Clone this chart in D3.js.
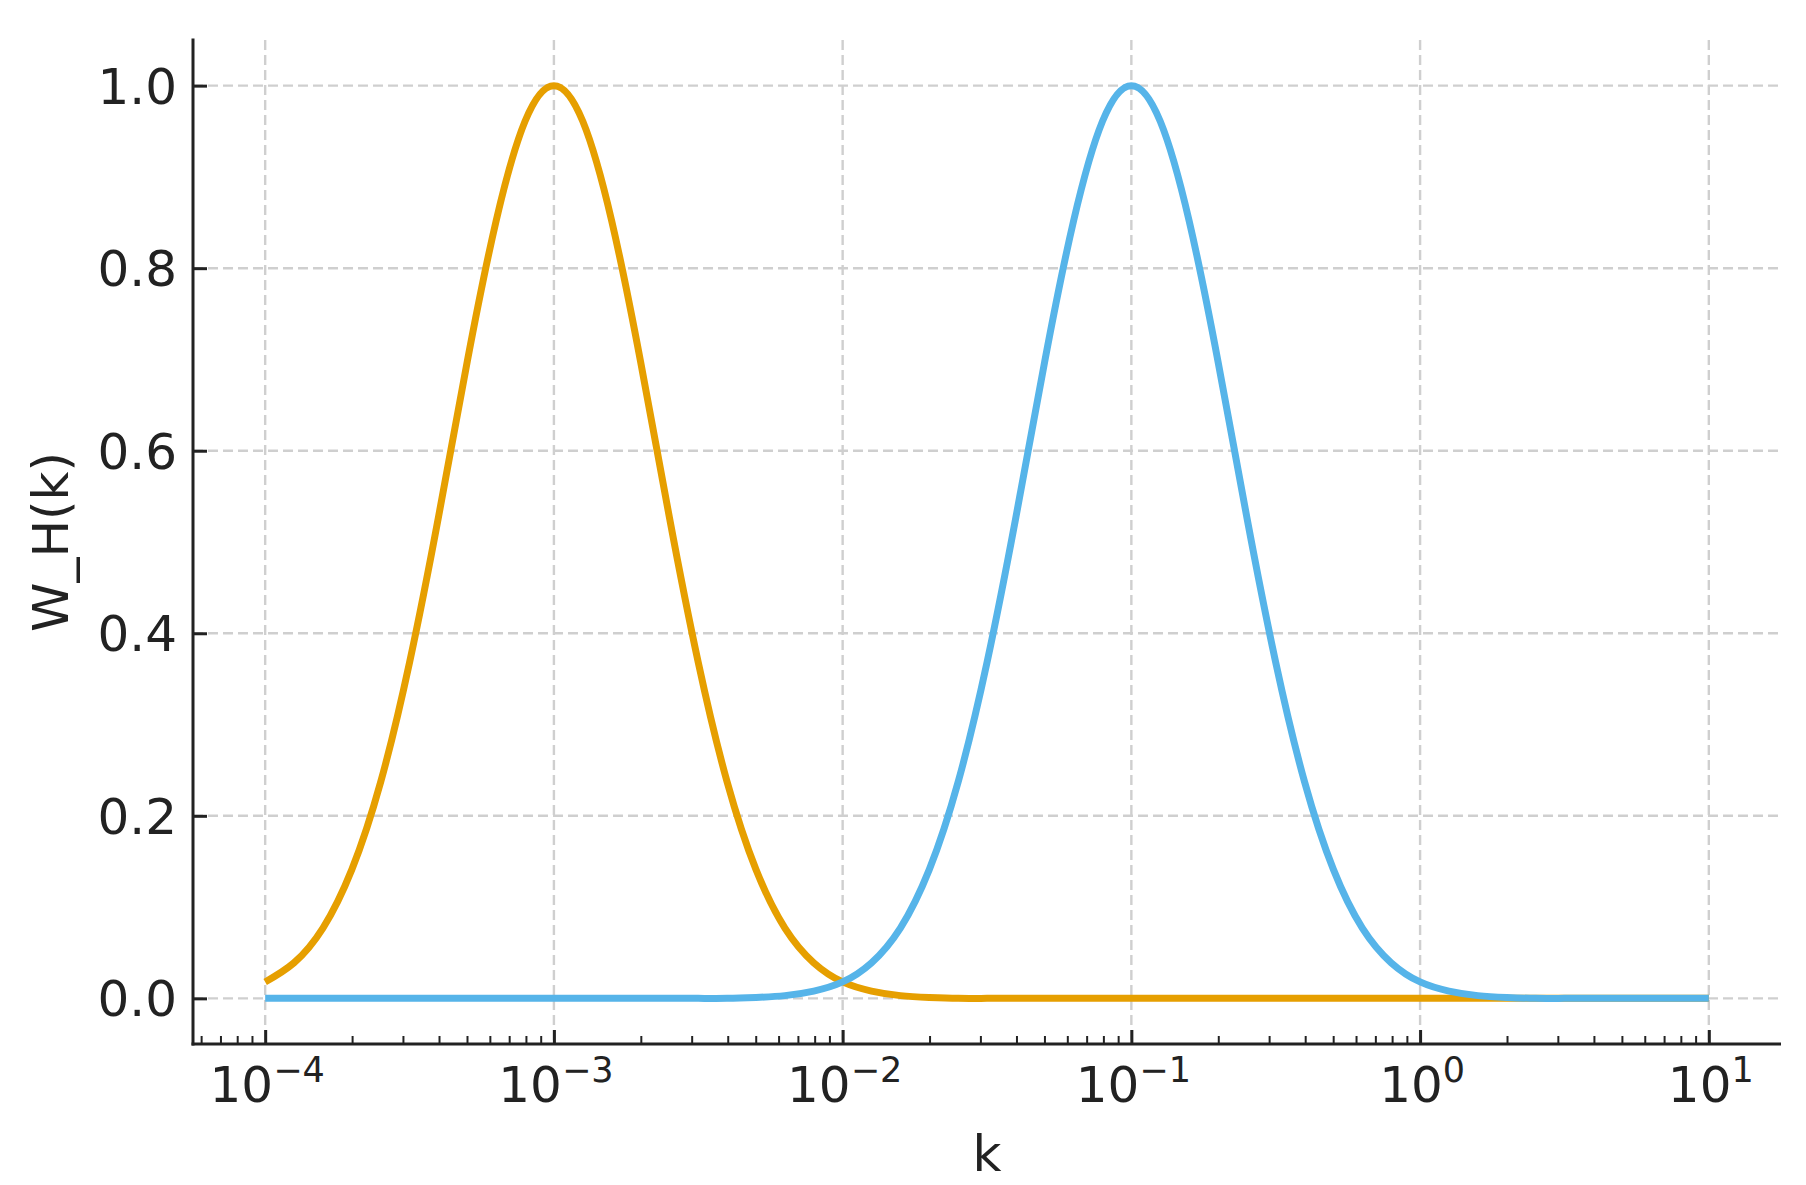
<!DOCTYPE html>
<html>
<head>
<meta charset="utf-8">
<script src="https://cdn.jsdelivr.net/npm/d3@7"></script>
<style>
  html, body { margin: 0; padding: 0; background: #ffffff; }
  svg { display: block; }
  text { font-family: "DejaVu Sans", sans-serif; fill: #222222; }
</style>
</head>
<body>
<svg id="chart" width="1806" height="1185"></svg>
<script>
// ---- data ----
const logK = [
  -4.0, -3.9, -3.8, -3.7, -3.6, -3.5, -3.4, -3.3, -3.2, -3.1,
  -3.0, -2.9, -2.8, -2.7, -2.6, -2.5, -2.4, -2.3, -2.2, -2.1,
  -2.0, -1.9, -1.8, -1.7, -1.6, -1.5, -1.4, -1.3, -1.2, -1.1,
  -1.0, -0.9, -0.8, -0.7, -0.6, -0.5, -0.4, -0.3, -0.2, -0.1,
   0.0,  0.1,  0.2,  0.3,  0.4,  0.5,  0.6,  0.7,  0.8,  0.9,
   1.0
];
const orangeSeries = [
  0.018, 0.039, 0.077, 0.141, 0.237, 0.368, 0.527, 0.698, 0.852, 0.961,
  1.000, 0.961, 0.852, 0.698, 0.527, 0.368, 0.237, 0.141, 0.077, 0.039,
  0.018, 0.008, 0.003, 0.001, 0.000, 0.000, 0.000, 0.000, 0.000, 0.000,
  0.000, 0.000, 0.000, 0.000, 0.000, 0.000, 0.000, 0.000, 0.000, 0.000,
  0.000, 0.000, 0.000, 0.000, 0.000, 0.000, 0.000, 0.000, 0.000, 0.000,
  0.000
];
const blueSeries = [
  0.000, 0.000, 0.000, 0.000, 0.000, 0.000, 0.000, 0.000, 0.000, 0.000,
  0.000, 0.000, 0.000, 0.000, 0.000, 0.000, 0.000, 0.001, 0.003, 0.008,
  0.018, 0.039, 0.077, 0.141, 0.237, 0.368, 0.527, 0.698, 0.852, 0.961,
  1.000, 0.961, 0.852, 0.698, 0.527, 0.368, 0.237, 0.141, 0.077, 0.039,
  0.018, 0.008, 0.003, 0.001, 0.000, 0.000, 0.000, 0.000, 0.000, 0.000,
  0.000
];
const seriesColors = ["#E69F00", "#56B4E9"];
const xMajorExps = [-4, -3, -2, -1, 0, 1];
const yTicks = [0.0, 0.2, 0.4, 0.6, 0.8, 1.0];
const xLabel = "k";
const yLabel = "W_H(k)";

// ---- layout ----
const svg = d3.select("#chart");
const L = 193, R = 1781, T = 40, B = 1044;

const x = d3.scaleLog().domain([Math.pow(10, -4.25), Math.pow(10, 1.25)]).range([L, R]);
const y = d3.scaleLinear().domain([-0.05, 1.05]).range([B, T]);

// grid
const grid = svg.append("g").attr("stroke", "#cfcfcf").attr("stroke-width", 2.4)
  .attr("stroke-dasharray", "10,5").attr("fill", "none");
xMajorExps.forEach(e => {
  const px = x(Math.pow(10, e));
  grid.append("line").attr("x1", px).attr("x2", px).attr("y1", T).attr("y2", B);
});
yTicks.forEach(v => {
  grid.append("line").attr("x1", L).attr("x2", R).attr("y1", y(v)).attr("y2", y(v));
});

// curves
const rows = logK.map((lk, i) => ({ k: Math.pow(10, lk), o: orangeSeries[i], b: blueSeries[i] }));
const lineO = d3.line().x(d => x(d.k)).y(d => y(d.o)).curve(d3.curveNatural);
const lineB = d3.line().x(d => x(d.k)).y(d => y(d.b)).curve(d3.curveNatural);
svg.append("path").datum(rows).attr("d", lineO).attr("fill", "none")
  .attr("stroke", seriesColors[0]).attr("stroke-width", 7).attr("stroke-linejoin", "round");
svg.append("path").datum(rows).attr("d", lineB).attr("fill", "none")
  .attr("stroke", seriesColors[1]).attr("stroke-width", 7).attr("stroke-linejoin", "round");

// x axis (log), ticks inward
const minorVals = [];
for (let e = -5; e <= 1; e++) {
  for (let m = 2; m <= 9; m++) {
    const v = m * Math.pow(10, e);
    if (v >= x.domain()[0] && v <= x.domain()[1]) minorVals.push(v);
  }
}
const xAxisMinor = d3.axisBottom(x).tickValues(minorVals).tickSize(-8).tickFormat("");
const gMinor = svg.append("g").attr("transform", `translate(0,${B})`).call(xAxisMinor);
gMinor.select(".domain").remove();
gMinor.selectAll(".tick line").attr("stroke", "#222").attr("stroke-width", 2);

const xAxisMajor = d3.axisBottom(x).tickValues(xMajorExps.map(e => Math.pow(10, e))).tickSize(-14).tickFormat("");
const gMajor = svg.append("g").attr("transform", `translate(0,${B})`).call(xAxisMajor);
gMajor.select(".domain").remove();
gMajor.selectAll(".tick line").attr("stroke", "#222").attr("stroke-width", 3);

// x tick labels with superscripts
xMajorExps.forEach(e => {
  const t = svg.append("text")
    .attr("x", x(Math.pow(10, e)) + 2)
    .attr("y", 1101.5)
    .attr("text-anchor", "middle")
    .attr("font-size", 50);
  t.append("tspan").text("10");
  t.append("tspan").attr("dy", -20).attr("font-size", 35)
    .text(e < 0 ? "\u2212" + Math.abs(e) : String(e));
});

// y axis ticks inward
const yAxis = d3.axisLeft(y).tickValues(yTicks).tickSize(-14).tickFormat("");
const gY = svg.append("g").attr("transform", `translate(${L},0)`).call(yAxis);
gY.select(".domain").remove();
gY.selectAll(".tick line").attr("stroke", "#222").attr("stroke-width", 3);
yTicks.forEach(v => {
  svg.append("text")
    .attr("x", 177)
    .attr("y", y(v) + 18)
    .attr("text-anchor", "end")
    .attr("font-size", 50)
    .text(v.toFixed(1));
});

// spines
svg.append("line").attr("x1", L).attr("x2", L).attr("y1", T - 1.5).attr("y2", B + 1.5)
  .attr("stroke", "#222").attr("stroke-width", 3);
svg.append("line").attr("x1", L - 1.5).attr("x2", R).attr("y1", B).attr("y2", B)
  .attr("stroke", "#222").attr("stroke-width", 3);

// axis labels
svg.append("text").attr("x", (L + R) / 2).attr("y", 1170.5)
  .attr("text-anchor", "middle").attr("font-size", 50).text(xLabel);
svg.append("text")
  .attr("transform", `translate(68,${(T + B) / 2}) rotate(-90)`)
  .attr("text-anchor", "middle").attr("font-size", 50).text(yLabel);
</script>
</body>
</html>
